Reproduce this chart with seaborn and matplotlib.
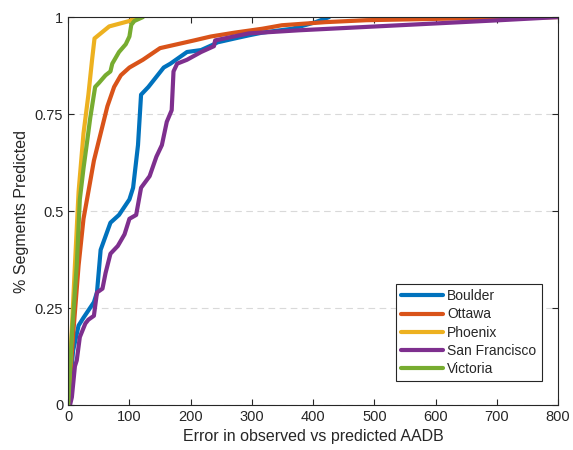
import pandas as pd
import numpy as np
import matplotlib
matplotlib.use("Agg")
import matplotlib.pyplot as plt
import seaborn as sns

# values (error in AADB vs share of segments)
boulder_x = [0, 3, 8, 17, 25, 42, 47, 53, 69, 83, 100, 106, 114, 119, 131, 156, 167, 194, 217, 238, 244, 272, 295, 317, 366, 404, 426]
boulder_y = [0, 0.05, 0.14, 0.205, 0.225, 0.265, 0.29, 0.40, 0.47, 0.49, 0.53, 0.56, 0.67, 0.80, 0.82, 0.87, 0.88, 0.91, 0.915, 0.93, 0.935, 0.945, 0.953, 0.96, 0.97, 0.987, 1.0]

ottawa_x = [0, 8, 17, 25, 33, 42, 53, 64, 75, 86, 100, 122, 150, 178, 206, 233, 272, 317, 349, 420, 487, 650, 800]
ottawa_y = [0, 0.18, 0.36, 0.48, 0.55, 0.63, 0.70, 0.77, 0.82, 0.85, 0.87, 0.89, 0.92, 0.93, 0.94, 0.95, 0.96, 0.97, 0.979, 0.987, 0.992, 0.997, 1.0]

phoenix_x = [0, 3, 11, 17, 25, 33, 39, 43, 67, 100, 112]
phoenix_y = [0, 0.1, 0.36, 0.55, 0.70, 0.80, 0.89, 0.945, 0.976, 0.99, 1.0]

sf_x = [3, 6, 11, 14, 19, 28, 33, 42, 47, 56, 61, 69, 81, 92, 100, 111, 119, 133, 144, 153, 161, 169, 172, 178, 194, 217, 238, 240, 295, 377, 541, 705, 800]
sf_y = [0, 0.02, 0.10, 0.115, 0.175, 0.21, 0.22, 0.23, 0.29, 0.30, 0.34, 0.39, 0.41, 0.44, 0.48, 0.49, 0.56, 0.59, 0.64, 0.67, 0.73, 0.76, 0.86, 0.88, 0.89, 0.91, 0.925, 0.94, 0.958, 0.966, 0.979, 0.992, 1.0]

victoria_x = [0, 6, 14, 19, 25, 31, 36, 44, 50, 61, 69, 72, 83, 94, 100, 103, 108, 122]
victoria_y = [0, 0.18, 0.36, 0.53, 0.61, 0.68, 0.74, 0.82, 0.83, 0.85, 0.86, 0.88, 0.91, 0.93, 0.95, 0.98, 0.99, 1.0]

cities = ["Boulder", "Ottawa", "Phoenix", "San Francisco", "Victoria"]
colors = ["#0072BD", "#D95319", "#EDB120", "#7E2F8E", "#77AC30"]

frames = []
for name, xs, ys in zip(cities,
                        [boulder_x, ottawa_x, phoenix_x, sf_x, victoria_x],
                        [boulder_y, ottawa_y, phoenix_y, sf_y, victoria_y]):
    frames.append(pd.DataFrame({"error": xs, "share": ys, "city": name}))
df = pd.concat(frames, ignore_index=True)

sns.set_style("ticks")
plt.rcParams["font.family"] = ["Liberation Sans", "DejaVu Sans"]

fig = plt.figure(figsize=(5.73, 4.5), dpi=100)
ax = fig.add_axes([0.119, 0.1, 0.855, 0.862])

sns.lineplot(data=df, x="error", y="share", hue="city", hue_order=cities,
             palette=colors, estimator=None, sort=False, linewidth=3, ax=ax)

ax.set_xlim(0, 800)
ax.set_ylim(0, 1)
ax.set_xticks(np.arange(0, 801, 100))
ax.set_yticks([0, 0.25, 0.5, 0.75, 1])
ax.set_yticklabels(["0", "0.25", "0.5", "0.75", "1"])
ax.yaxis.grid(True, linestyle=(0, (6, 4)), color="#d9d9d9", linewidth=0.8)
ax.set_axisbelow(True)

ax.tick_params(direction="in", top=True, right=True, length=4, width=0.8,
               colors="#262626", labelsize=10.5)
for sp in ax.spines.values():
    sp.set_color("#262626")
    sp.set_linewidth(0.8)

ax.set_xlabel("Error in observed vs predicted AADB", fontsize=11.5, color="#262626")
ax.set_ylabel("% Segments Predicted", fontsize=11.5, color="#262626")

leg = ax.legend(loc="lower right", bbox_to_anchor=(0.975, 0.05), fontsize=10,
                fancybox=False, framealpha=1, edgecolor="#262626",
                handlelength=3.0, borderaxespad=0.3, labelspacing=0.3,
                handletextpad=0.3)
leg.get_frame().set_linewidth(0.8)
for line in leg.get_lines():
    line.set_linewidth(3)

fig.savefig("out.png", dpi=100)
